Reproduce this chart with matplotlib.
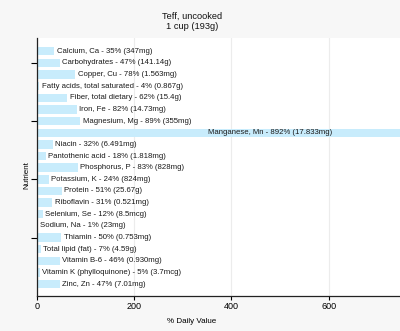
import matplotlib
matplotlib.use("Agg")
import matplotlib.pyplot as plt

plt.rcParams['font.family'] = ['Liberation Sans', 'DejaVu Sans']

nutrients = [
    "Calcium, Ca", "Carbohydrates", "Copper, Cu", "Fatty acids, total saturated",
    "Fiber, total dietary", "Iron, Fe", "Magnesium, Mg", "Manganese, Mn",
    "Niacin", "Pantothenic acid", "Phosphorus, P", "Potassium, K", "Protein",
    "Riboflavin", "Selenium, Se", "Sodium, Na", "Thiamin", "Total lipid (fat)",
    "Vitamin B-6", "Vitamin K (phylloquinone)", "Zinc, Zn",
]
daily_value_pct = [35, 47, 78, 4, 62, 82, 89, 892, 32, 18, 83, 24, 51, 31, 12, 1,
                   50, 7, 46, 5, 47]
amounts = ["347mg", "141.14g", "1.563mg", "0.867g", "15.4g", "14.73mg", "355mg",
           "17.833mg", "6.491mg", "1.818mg", "828mg", "824mg", "25.67g", "0.521mg",
           "8.5mcg", "23mg", "0.753mg", "4.59g", "0.930mg", "3.7mcg", "7.01mg"]
x_ticks = [0, 200, 400, 600]

title = "Teff, uncooked\n1 cup (193g)"
x_max = 747

fig = plt.figure(figsize=(4.0, 3.31), dpi=100, facecolor="#f7f7f7")
ax = fig.add_axes([0.093, 0.105, 0.907, 0.78])
ax.set_facecolor("white")

ypos = list(range(len(nutrients)))
ax.barh(ypos, daily_value_pct, height=0.72, color="#c8ecfc", zorder=2)

for y, name, pct, amt in zip(ypos, nutrients, daily_value_pct, amounts):
    label = f"{name} - {pct}% ({amt})"
    if pct > x_max:
        xt = x_max * 0.47
    else:
        xt = pct + 5
    ax.text(xt, y, label, va="center", ha="left", fontsize=5.6,
            color="#1a1a1a", zorder=3)

n = len(nutrients)
ax.set_xlim(0, x_max)
ax.set_ylim(n - 1 + 1.03, -1.12)
ax.set_xticks(x_ticks)
ax.set_xticklabels([str(t) for t in x_ticks], fontsize=6.5)
ax.set_yticks(ypos[1::5])
ax.set_yticklabels([])
ax.tick_params(axis="y", length=4, width=0.8, direction="out")
ax.tick_params(axis="x", length=3, width=0.8, pad=1.5)
ax.grid(axis="x", color="#ececec", linewidth=0.8, zorder=0)

for side in ("top", "right"):
    ax.spines[side].set_visible(False)
for side in ("left", "bottom"):
    ax.spines[side].set_color("#222222")
    ax.spines[side].set_linewidth(0.9)

ax.set_xlabel("% Daily Value", fontsize=5.8)
ax.xaxis.set_label_coords(0.427, -0.085)
ax.set_ylabel("Nutrient", fontsize=5.8)
ax.yaxis.set_label_coords(-0.018, 0.47)
fig.text(0.48, 0.965, title, ha="center", va="top", fontsize=6.7,
         color="#111111", linespacing=1.25)

fig.savefig("out.png", dpi=100, facecolor=fig.get_facecolor())
